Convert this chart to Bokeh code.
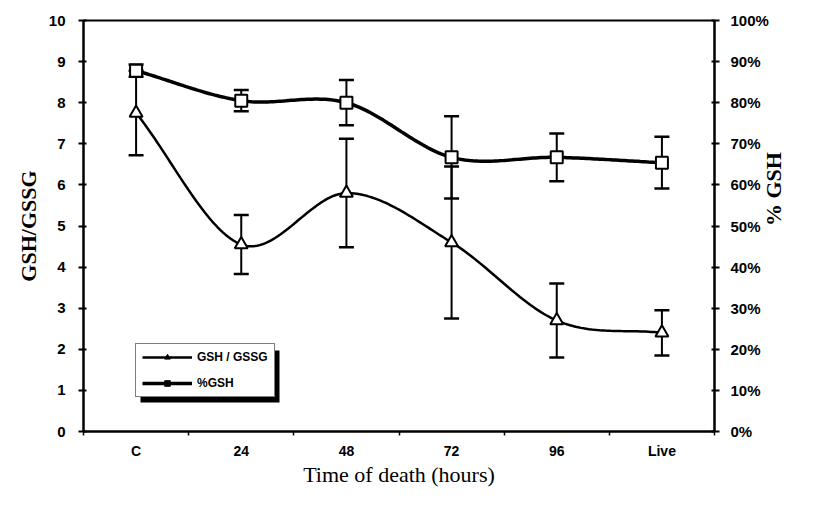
import math
import numpy as np
from bokeh.plotting import figure
from bokeh.models import (Range1d, LinearAxis, FixedTicker, Whisker, TeeHead,
                          ColumnDataSource, Legend, LegendItem, BoxAnnotation,
                          PrintfTickFormatter)
from bokeh.embed import file_html
from bokeh.resources import INLINE

# ---- data ----
categories = ["C", "24", "48", "72", "96", "Live"]
ratio = [7.75, 4.55, 5.8, 4.6, 2.7, 2.4]          # GSH / GSSG
ratio_err = [1.03, 0.72, 1.32, 1.85, 0.9, 0.55]
pct_gsh = [87.8, 80.5, 80.0, 66.7, 66.7, 65.4]    # % GSH
pct_err = [1.5, 2.6, 5.5, 10.0, 5.8, 6.3]
left_ticks = list(range(0, 11))
right_ticks = list(range(0, 101, 10))

xpos = [i + 0.5 for i in range(len(categories))]


def smooth(xs, ys, n=40):
    """Catmull-Rom curve through the data points (Excel-style smoothed line)."""
    xs = np.asarray(xs, float)
    ys = np.asarray(ys, float)
    px = np.concatenate([[2 * xs[0] - xs[1]], xs, [2 * xs[-1] - xs[-2]]])
    py = np.concatenate([[2 * ys[0] - ys[1]], ys, [2 * ys[-1] - ys[-2]]])
    ox, oy = [], []
    for i in range(1, len(px) - 2):
        last = i == len(px) - 3
        t = np.linspace(0, 1, n, endpoint=last)
        for P, out in ((px, ox), (py, oy)):
            p0, p1, p2, p3 = P[i - 1], P[i], P[i + 1], P[i + 2]
            out.extend(0.5 * (2 * p1 + (-p0 + p2) * t
                              + (2 * p0 - 5 * p1 + 4 * p2 - p3) * t ** 2
                              + (-p0 + 3 * p1 - 3 * p2 + p3) * t ** 3))
    return ox, oy


p = figure(width=801, height=489, x_range=Range1d(0, 6), y_range=Range1d(0, 10),
           output_backend="svg", toolbar_location=None,
           min_border_left=83, min_border_right=84, min_border_top=20, min_border_bottom=57)
p.extra_y_ranges = {"pct": Range1d(0, 100)}
p.grid.visible = False
p.outline_line_color = "black"
p.outline_line_width = 2
p.background_fill_color = "white"
p.border_fill_color = "white"

SANS = "Liberation Sans"
SERIF = "Liberation Serif"

# left axis
ya = p.yaxis[0]
ya.ticker = FixedTicker(ticks=left_ticks, minor_ticks=[])
ya.axis_line_width = 2
ya.major_tick_in = 3
ya.major_tick_out = 5
ya.major_tick_line_width = 2
ya.major_label_text_font = SANS
ya.major_label_text_font_style = "bold"
ya.major_label_text_font_size = "15px"
ya.major_label_text_color = "black"
ya.major_label_standoff = 13
ya.axis_label = "GSH/GSSG"
ya.axis_label_text_font = SERIF
ya.axis_label_text_font_style = "bold"
ya.axis_label_text_font_size = "22px"
ya.axis_label_text_color = "black"
ya.axis_label_standoff = 5

# right axis
ra = LinearAxis(y_range_name="pct", ticker=FixedTicker(ticks=right_ticks, minor_ticks=[]),
                formatter=PrintfTickFormatter(format="%d%%"))
ra.axis_line_width = 2
ra.major_tick_in = 3
ra.major_tick_out = 5
ra.major_tick_line_width = 2
ra.major_label_text_font = SANS
ra.major_label_text_font_style = "bold"
ra.major_label_text_font_size = "15px"
ra.major_label_text_color = "black"
ra.major_label_standoff = 11
ra.axis_label = "% GSH"
ra.axis_label_text_font = SERIF
ra.axis_label_text_font_style = "bold"
ra.axis_label_text_font_size = "22px"
ra.axis_label_text_color = "black"
ra.axis_label_standoff = 2
try:
    ra.axis_label_orientation = math.pi / 2
except Exception:
    pass
p.add_layout(ra, "right")

# bottom axis
xa = p.xaxis[0]
xa.ticker = FixedTicker(ticks=xpos, minor_ticks=list(range(0, len(categories) + 1)))
xa.major_label_overrides = {x: c for x, c in zip(xpos, categories)}
xa.axis_line_width = 2
xa.major_tick_in = 0
xa.major_tick_out = 0
xa.minor_tick_in = 0
xa.minor_tick_out = 4
xa.minor_tick_line_width = 1.5
xa.major_label_text_font = SANS
xa.major_label_text_font_style = "bold"
xa.major_label_text_font_size = "14px"
xa.major_label_text_color = "black"
xa.major_label_standoff = 7
xa.axis_label = "Time of death (hours)"
xa.axis_label_text_font = SERIF
xa.axis_label_text_font_style = "normal"
xa.axis_label_text_font_size = "22px"
xa.axis_label_text_color = "black"
xa.axis_label_standoff = 0

# series
sx, sy = smooth(xpos, ratio)
p.line(sx, sy, line_color="black", line_width=2.5)
px_, py_ = smooth(xpos, pct_gsh)
p.line(px_, py_, line_color="black", line_width=3.5, y_range_name="pct")

src_r = ColumnDataSource(dict(x=xpos, y=ratio,
                              lo=[v - e for v, e in zip(ratio, ratio_err)],
                              hi=[v + e for v, e in zip(ratio, ratio_err)]))
src_p = ColumnDataSource(dict(x=xpos, y=pct_gsh,
                              lo=[v - e for v, e in zip(pct_gsh, pct_err)],
                              hi=[v + e for v, e in zip(pct_gsh, pct_err)]))

for src, rng in ((src_r, "default"), (src_p, "pct")):
    w = Whisker(base="x", lower="lo", upper="hi", source=src, y_range_name=rng,
                line_color="black", line_width=2,
                upper_head=TeeHead(size=15, line_width=2.5, line_color="black"),
                lower_head=TeeHead(size=15, line_width=2.5, line_color="black"))
    p.add_layout(w)

p.scatter("x", "y", source=src_r, marker="triangle", size=13,
          fill_color="white", line_color="black", line_width=2)
p.scatter("x", "y", source=src_p, marker="square", size=12,
          fill_color="white", line_color="black", line_width=2, y_range_name="pct")

# legend-only renderers (hidden on the plot, drawn in the legend)
lg1 = p.line("x", "y", source=src_r, line_color="black", line_width=2.5, visible=False)
lg1m = p.scatter("x", "y", source=src_r, marker="triangle", size=9,
                 fill_color="black", line_color="black", visible=False)
lg2 = p.line("x", "y", source=src_p, line_color="black", line_width=3.5,
             y_range_name="pct", visible=False)
lg2m = p.scatter("x", "y", source=src_p, marker="square", size=8,
                 fill_color="black", line_color="black", y_range_name="pct", visible=False)

LX, LY, LW, LH = 52, 34, 139, 52
shadow = BoxAnnotation(left=LX + 5, right=LX + LW + 5, bottom=LY - 5, top=LY + LH - 5,
                       left_units="screen", right_units="screen",
                       top_units="screen", bottom_units="screen",
                       fill_color="black", fill_alpha=1, line_alpha=0, level="overlay")
p.add_layout(shadow)

legend = Legend(items=[LegendItem(label="GSH / GSSG", renderers=[lg1, lg1m]),
                       LegendItem(label="%GSH", renderers=[lg2, lg2m])],
                location=(LX, LY), orientation="vertical",
                border_line_color="black", border_line_width=1.5,
                background_fill_color="white", background_fill_alpha=1,
                label_text_font=SANS, label_text_font_style="bold",
                label_text_font_size="12px", label_text_color="black",
                glyph_width=50, glyph_height=14, label_standoff=5,
                padding=6, spacing=12, margin=0)
p.add_layout(legend, "center")

open("out.html", "w").write(file_html(p, INLINE))
